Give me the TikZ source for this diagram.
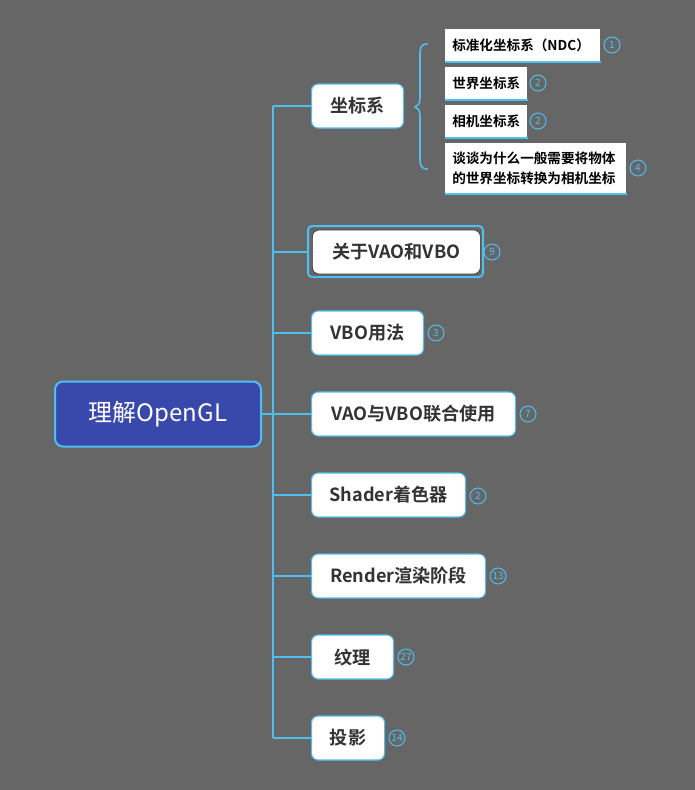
\documentclass[tikz,border=0pt]{standalone}
\usepackage{fontspec}
\setmainfont{Noto Sans CJK SC}[BoldFont={Noto Sans CJK SC Bold}]
\usetikzlibrary{calc}
\definecolor{bg}{RGB}{102,102,102}
\definecolor{lineblue}{RGB}{79,190,240}
\definecolor{rootfill}{RGB}{57,73,171}
\definecolor{txt}{RGB}{51,51,51}
\def\u{0.75pt}
\tikzset{
  rootbox/.style={draw=lineblue, line width=1.5pt, fill=rootfill, rounded corners=6pt,
    text=white, font=\fontsize{18}{20}\selectfont, inner sep=0pt, anchor=west},
  childbox/.style={draw=lineblue, line width=0.8pt, fill=white, rounded corners=5pt,
    text=txt, font=\bfseries\fontsize{13.6}{16}\selectfont, inner sep=0pt, anchor=west,
    minimum height=44*\u},
  subbox/.style={fill=white, text=black, font=\bfseries\fontsize{10.2}{15}\selectfont,
    inner xsep=5.25pt, inner ysep=0pt, anchor=north west, align=left},
  badge/.style={circle, draw=lineblue, line width=0.75pt, text=lineblue,
    minimum size=16*\u, inner sep=0pt, font=\fontsize{7.5}{8}\selectfont},
  link/.style={draw=lineblue, line width=1.2pt},
}
\begin{document}
\begin{tikzpicture}[x=0.75pt,y=-0.75pt]
\fill[bg] (0,0) rectangle (695,790);
\useasboundingbox (0,0) rectangle (695,790);

% root
\node[rootbox, minimum width=206*\u, minimum height=65*\u] (root) at (54,414) {理解OpenGL};

% children
\node[childbox, minimum width=92*\u] (c1) at (311,106) {坐标系};
\node[childbox, minimum width=168*\u, draw=txt, line width=0.5pt] (c2) at (312,252) {关于VAO和VBO};
\node[childbox, minimum width=112*\u] (c3) at (311,333) {VBO用法};
\node[childbox, minimum width=204*\u] (c4) at (311,414) {VAO与VBO联合使用};
\node[childbox, minimum width=154*\u] (c5) at (311,495) {Shader着色器};
\node[childbox, minimum width=174*\u] (c6) at (311,576) {Render渲染阶段};
\node[childbox, minimum width=82*\u] (c7) at (311,657) {纹理};
\node[childbox, minimum width=73*\u] (c8) at (311,738) {投影};
\draw[lineblue, line width=1.5pt, rounded corners=3pt] (308,226) rectangle (483,277);

% trunk and branches
\coordinate (trunk) at (273,414);
\coordinate (ttop) at (273,106);
\coordinate (tbot) at (273,738);
\draw[link] (root.east) -- (trunk);
\draw[link] (ttop) -- (tbot);
\foreach \n/\x in {c1/311,c2/308,c3/311,c4/311,c5/311,c6/311,c7/311,c8/311}
  \draw[link] (trunk|-\n.west) -- (\x,0|-\n.west);

% badges of children
\node[badge] (b2) at (492,252) {9};
\node[badge] (b3) at (436,333) {3};
\node[badge] (b4) at (528,414) {7};
\node[badge] (b5) at (478,496) {2};
\node[badge] (b6) at (498,576) {13};
\node[badge] (b7) at (406,657) {27};
\node[badge] (b8) at (397,738) {14};

% brace
\coordinate (bracetip) at (415,107);
\draw[link] (428,44) .. controls (421,44) and (420,47) .. (420,55) -- (420,98)
  .. controls (420,104) and (418,106) .. (bracetip)
  .. controls (418,108) and (420,110) .. (420,116) -- (420,158)
  .. controls (420,166) and (421,169) .. (428,169);

% sub items
\node[subbox, minimum height=32*\u, text width=141*\u] (s1) at (445,29) {标准化坐标系（NDC）};
\node[subbox, minimum height=32*\u, text width=68*\u] (s2) at (445,67) {世界坐标系};
\node[subbox, minimum height=32*\u, text width=68*\u] (s3) at (445,105) {相机坐标系};
\node[subbox, minimum height=50*\u, text width=167*\u] (s4) at (445,143) {谈谈为什么一般需要将物体\\的世界坐标转换为相机坐标};
\foreach \n in {s1,s2,s3,s4}
  \draw[lineblue, line width=1.5pt] (\n.south west) -- (\n.south east);

\node[badge] (bs1) at (612,45) {1};
\node[badge] (bs2) at (538,83) {2};
\node[badge] (bs3) at (538,121) {2};
\node[badge] (bs4) at (638,168) {4};
\end{tikzpicture}
\end{document}
